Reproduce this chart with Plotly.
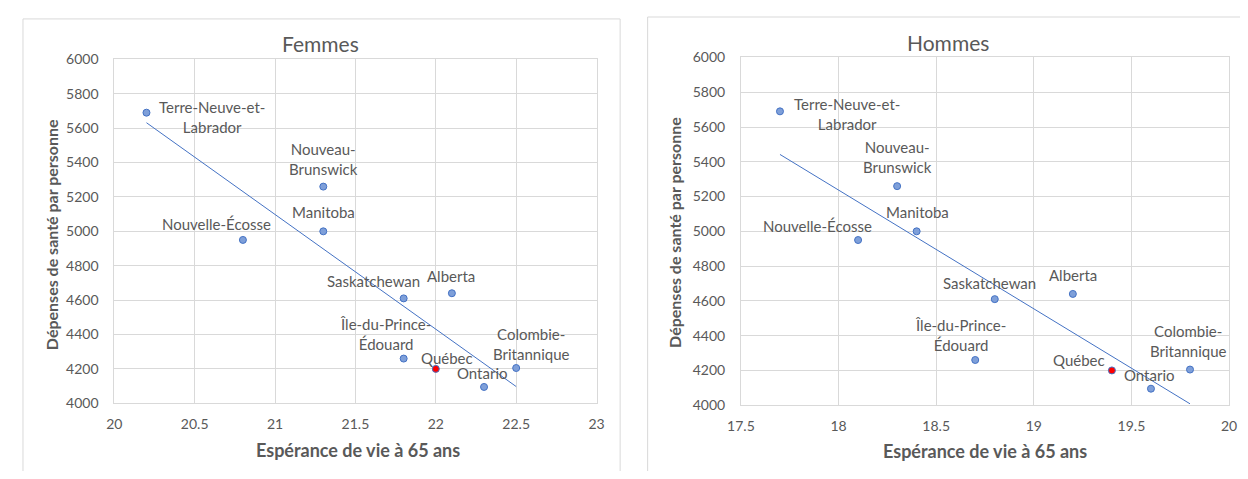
import numpy as np
import plotly.graph_objects as go

# ---- data ----
provinces = ["Terre-Neuve-et-<br>Labrador", "Nouveau-<br>Brunswick", "Manitoba", "Nouvelle-Écosse",
             "Saskatchewan", "Alberta", "Île-du-Prince-<br>Édouard", "Québec", "Ontario",
             "Colombie-<br>Britannique"]
depenses = [5690, 5260, 5000, 4950, 4610, 4640, 4260, 4200, 4095, 4205]
esp_femmes = [20.2, 21.3, 21.3, 20.8, 21.8, 22.1, 21.8, 22.0, 22.3, 22.5]
esp_hommes = [17.7, 18.3, 18.4, 18.1, 18.8, 19.2, 18.7, 19.4, 19.6, 19.8]
x_ticks_f = [20, 20.5, 21, 21.5, 22, 22.5, 23]
x_ticks_h = [17.5, 18, 18.5, 19, 19.5, 20]
y_ticks = [4000, 4200, 4400, 4600, 4800, 5000, 5200, 5400, 5600, 5800, 6000]

# label pixel offsets (style, not data)
off_f = [(66, -4), (0, 28), (0, 19), (-26, 16), (-30, 17), (-1, 17), (-18, 25), (11, 11), (-2, 14), (15, 24)]
off_h = [(67, -3), (0, 29), (1, 19), (-41, 14), (-5, 16), (0, 19), (-15, 25), (-33, 10), (-1, 14), (-2, 29)]

# page is 1248x479 with the default 8px body margin -> figure is 1232x463
M = 8
W, H = 1248 - 2 * M, 479 - 2 * M
GREY = "#595959"
GRID = "#D9D9D9"
BLUE = "#4472C4"
FONT = "Lato"

def px(x):
    return (x - M) / W

def py(y):
    return 1 - (y - M) / H

fig = go.Figure()

def add_panel(xs, xa, ya, offs):
    fills = ["#FF0000" if p == "Québec" else "#7E9FD9" for p in provinces]
    fig.add_trace(go.Scatter(x=xs, y=depenses, mode="markers", xaxis=xa, yaxis=ya,
                             marker=dict(size=7, color=fills, line=dict(color=BLUE, width=1)),
                             showlegend=False, hoverinfo="skip", cliponaxis=False))
    slope, inter = np.polyfit(xs, depenses, 1)
    lx = [min(xs), max(xs)]
    fig.add_trace(go.Scatter(x=lx, y=[slope * v + inter for v in lx], mode="lines",
                             xaxis=xa, yaxis=ya, line=dict(color=BLUE, width=1),
                             showlegend=False, hoverinfo="skip"))
    for p, xv, yv, (dx, dy) in zip(provinces, xs, depenses, offs):
        fig.add_annotation(x=xv, y=yv, xref=xa, yref=ya, text=p, showarrow=False,
                           xshift=dx, yshift=dy, align="center",
                           font=dict(family=FONT, size=15, color=GREY))

add_panel(esp_femmes, "x", "y", off_f)
add_panel(esp_hommes, "x2", "y2", off_h)

axis_common = dict(showgrid=True, gridcolor=GRID, gridwidth=1, zeroline=False,
                   showline=True, linecolor=GRID, linewidth=1, mirror=True,
                   ticks="", tickfont=dict(family=FONT, size=14, color=GREY))

fig.update_layout(
    width=W, height=H, autosize=False, margin=dict(l=0, r=0, t=0, b=0),
    paper_bgcolor="white", plot_bgcolor="white",
    xaxis=dict(domain=[px(102), px(593)], range=[20, 23], tickvals=x_ticks_f,
               ticktext=[f"{v:g}" for v in x_ticks_f], anchor="y", ticklabelstandoff=8, **axis_common),
    yaxis=dict(domain=[py(409), py(52)], range=[4000, 6000], tickvals=y_ticks,
               anchor="x", ticklabelstandoff=12, **axis_common),
    xaxis2=dict(domain=[px(740), px(1237)], range=[17.5, 20], tickvals=x_ticks_h,
                ticktext=[f"{v:g}" for v in x_ticks_h], anchor="y2", ticklabelstandoff=8, **axis_common),
    yaxis2=dict(domain=[py(411), py(50)], range=[4000, 6000], tickvals=y_ticks,
                anchor="x2", ticklabelstandoff=12, **axis_common),
)

# panel borders
fig.add_shape(type="rect", xref="paper", yref="paper", x0=px(9), x1=px(617), y0=py(490), y1=py(10),
              line=dict(color=GRID, width=1), layer="below")
fig.add_shape(type="rect", xref="paper", yref="paper", x0=px(645), x1=px(1270), y0=py(490), y1=py(8),
              line=dict(color=GRID, width=1), layer="below")

def txt(x, y, t, size, bold=False, angle=0):
    fig.add_annotation(x=px(x), y=py(y), xref="paper", yref="paper", text=f"<b>{t}</b>" if bold else t,
                       showarrow=False, textangle=angle, xanchor="center", yanchor="middle",
                       font=dict(family=FONT, size=size, color=GREY))

txt(312, 36, "Femmes", 21)
txt(951, 34, "Hommes", 21)
txt(350, 458, "Espérance de vie à 65 ans", 18, bold=True)
txt(989, 459, "Espérance de vie à 65 ans", 18, bold=True)
txt(38, 234, "Dépenses de santé par personne", 16, bold=True, angle=-90)
txt(673, 232, "Dépenses de santé par personne", 16, bold=True, angle=-90)

fig.write_html("out.html", config={"displayModeBar": False})
